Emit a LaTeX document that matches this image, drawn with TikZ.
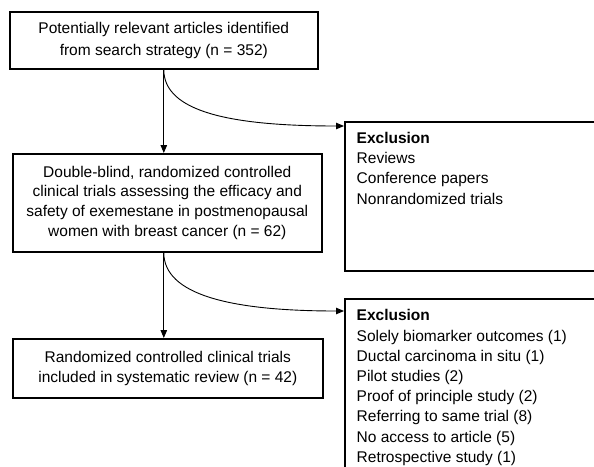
\documentclass[tikz,border=0pt]{standalone}
\usepackage{fontspec}
\setmainfont{Liberation Sans}
\usetikzlibrary{arrows.meta}
\begin{document}
\begin{tikzpicture}[x=1pt,y=-1pt,
  box/.style={draw, line width=1.6pt, align=center, inner sep=0pt, anchor=north west},
  exbox/.style={draw, line width=1.6pt, inner sep=0pt, anchor=north west, minimum width=262pt},
  extext/.style={anchor=north west, align=left, inner sep=0pt, font=\fontsize{15.5}{20.2}\selectfont},
  conn/.style={line width=0.9pt, -{Triangle[length=8pt,width=6.5pt]}},
]
\clip (0,0) rectangle (594,466);
\node[box, minimum width=308pt, minimum height=57pt, font=\fontsize{15.5}{21.5}\selectfont] (b1) at (9,11)
  {Potentially relevant articles identified\\from search strategy (n = 352)};
\node[box, minimum width=309pt, minimum height=98pt, font=\fontsize{15.5}{19.7}\selectfont] (b2) at (12,153)
  {Double-blind, randomized controlled\\clinical trials assessing the efficacy and\\safety of exemestane in postmenopausal\\women with breast cancer (n = 62)};
\node[box, minimum width=310pt, minimum height=59pt, font=\fontsize{15.5}{20}\selectfont] (b3) at (12,338)
  {Randomized controlled clinical trials\\included in systematic review (n = 42)};
\node[exbox, minimum height=149pt] (ex1) at (344,121) {};
\node[exbox, minimum height=190pt] (ex2) at (344,298) {};
\node[extext] (ex1t) at (356.5,132)
  {\textbf{Exclusion}\\Reviews\\Conference papers\\Nonrandomized trials};
\node[extext] (ex2t) at (356.5,309.5)
  {\textbf{Exclusion}\\Solely biomarker outcomes (1)\\Ductal carcinoma in situ (1)\\Pilot studies (2)\\Proof of principle study (2)\\Referring to same trial (8)\\No access to article (5)\\Retrospective study (1)};
\draw[conn] (b1.south) -- (b1.south |- b2.north);
\draw[conn] (b1.south |- b2.south) -- (b1.south |- b3.north);
\draw[conn] (b1.south) .. controls +(0,42) and +(-114,0) .. ([yshift=-5pt]ex1.north west);
\draw[conn] (b1.south |- b2.south) .. controls +(0,42) and +(-114,0) .. ([yshift=-13pt]ex2.north west);
\end{tikzpicture}
\end{document}
